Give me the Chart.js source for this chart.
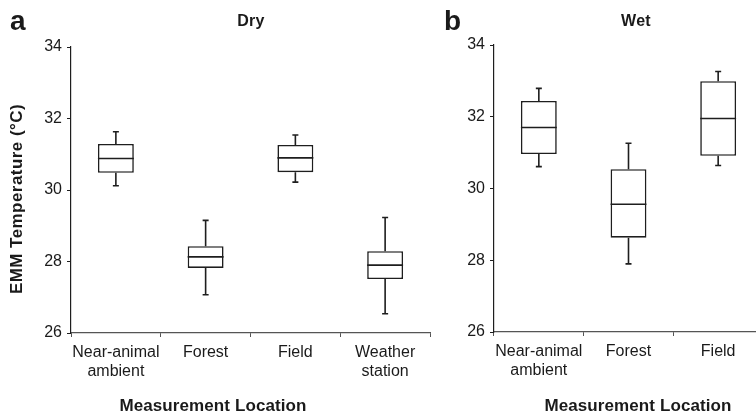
<!DOCTYPE html>
<html lang="en">
<head>
    <meta charset="UTF-8">
    <title>EMM Temperature by Measurement Location</title>
    <script src="https://cdn.jsdelivr.net/npm/chart.js"></script>
    <style>
        html, body { margin: 0; padding: 0; background: #fff; overflow: hidden; width: 756px; height: 413px; }
        body { position: relative; font-family: "Liberation Sans", Arial, sans-serif; color: #1a1a1a; }
        canvas { position: absolute; top: 0; }
        #chartA { left: 0; }
        #chartB { left: 440px; }
        .lbl { position: absolute; line-height: 1; white-space: nowrap; font-weight: bold; }
        .letter { font-size: 28px; }
        .panelTitle { font-size: 16px; letter-spacing: 0.3px; transform: translateX(-50%); }
        .xTitle { font-size: 17px; letter-spacing: 0.1px; transform: translateX(-50%); }
        .yTitle { font-size: 17px; letter-spacing: 0.45px; transform: translate(-50%, -50%) rotate(-90deg); }
    </style>
</head>
<body>
    <canvas id="chartA" width="440" height="413"></canvas>
    <canvas id="chartB" width="330" height="413"></canvas>

    <div class="lbl letter" style="left:10px; top:7px;">a</div>
    <div class="lbl letter" style="left:444px; top:7px;">b</div>
    <div class="lbl panelTitle" style="left:251px; top:13px;">Dry</div>
    <div class="lbl panelTitle" style="left:636px; top:13px;">Wet</div>
    <div class="lbl yTitle" style="left:16px; top:199px;">EMM Temperature (°C)</div>
    <div class="lbl xTitle" style="left:213px; top:397px;">Measurement Location</div>
    <div class="lbl xTitle" style="left:638px; top:397px;">Measurement Location</div>

    <script>
        // y axis ticks (both panels)
        const yTicks = [26, 28, 30, 32, 34];

        // Panel a - Dry season
        const dryCategories = [['Near-animal', 'ambient'], 'Forest', 'Field', ['Weather', 'station']];
        const dryMin    = [30.12, 27.07, 30.22, 26.54];
        const dryQ1     = [30.48, 27.82, 30.50, 27.51];
        const dryMedian = [30.88, 28.13, 30.90, 27.90];
        const dryQ3     = [31.29, 28.43, 31.26, 28.29];
        const dryMax    = [31.63, 29.15, 31.54, 29.23];

        // Panel b - Wet season
        const wetCategories = [['Near-animal', 'ambient'], 'Forest', 'Field'];
        const wetMin    = [30.61, 27.90, 30.64];
        const wetQ1     = [30.96, 28.63, 30.91];
        const wetMedian = [31.70, 29.56, 31.95];
        const wetQ3     = [32.44, 30.54, 32.99];
        const wetMax    = [32.79, 31.26, 33.26];

        const ink = '#1e1e1e';
        const tickFont = { family: '"Liberation Sans", Arial, sans-serif', size: 16 };

        // draws whiskers, caps and median lines on top of the floating bars
        const boxPlotLines = {
            id: 'boxPlotLines',
            afterDatasetsDraw(chart, args, opts) {
                const ctx = chart.ctx;
                const y = chart.scales.y;
                const meta = chart.getDatasetMeta(0);
                ctx.save();
                ctx.strokeStyle = ink;
                ctx.lineWidth = 1.6;
                meta.data.forEach((bar, i) => {
                    const x = bar.x;
                    const half = bar.width / 2;
                    const capHalf = 3;
                    const pMin = y.getPixelForValue(opts.min[i]);
                    const pQ1 = y.getPixelForValue(opts.q1[i]);
                    const pMed = y.getPixelForValue(opts.median[i]);
                    const pQ3 = y.getPixelForValue(opts.q3[i]);
                    const pMax = y.getPixelForValue(opts.max[i]);
                    ctx.beginPath();
                    // upper whisker
                    ctx.moveTo(x, pQ3); ctx.lineTo(x, pMax);
                    ctx.moveTo(x - capHalf, pMax); ctx.lineTo(x + capHalf, pMax);
                    // lower whisker
                    ctx.moveTo(x, pQ1); ctx.lineTo(x, pMin);
                    ctx.moveTo(x - capHalf, pMin); ctx.lineTo(x + capHalf, pMin);
                    // median
                    ctx.moveTo(x - half, pMed); ctx.lineTo(x + half, pMed);
                    ctx.stroke();
                });
                ctx.restore();
            }
        };

        function makeBoxChart(canvasId, categories, mins, q1s, medians, q3s, maxs, layout) {
            const boxes = q1s.map((q, i) => [q, q3s[i]]);
            return new Chart(document.getElementById(canvasId), {
                type: 'bar',
                data: {
                    labels: categories,
                    datasets: [{
                        data: boxes,
                        backgroundColor: '#ffffff',
                        borderColor: ink,
                        borderWidth: 1.6,
                        borderSkipped: false,
                        barPercentage: 0.4,
                        categoryPercentage: 1.0
                    }]
                },
                options: {
                    responsive: false,
                    animation: false,
                    layout: { padding: { top: layout.top, right: layout.right, left: 0, bottom: 0 } },
                    plugins: {
                        legend: { display: false },
                        tooltip: { enabled: false },
                        boxPlotLines: { min: mins, q1: q1s, median: medians, q3: q3s, max: maxs }
                    },
                    scales: {
                        x: {
                            offset: true,
                            grid: { offset: true, drawOnChartArea: false, drawTicks: true, tickLength: 4, color: '#555' },
                            border: { color: '#555', width: 1.2 },
                            ticks: { color: '#1a1a1a', font: tickFont, padding: 6, maxRotation: 0, autoSkip: false },
                            afterFit: s => { s.height = layout.xHeight; }
                        },
                        y: {
                            min: 26,
                            max: 34,
                            afterBuildTicks: s => { s.ticks = yTicks.map(v => ({ value: v })); },
                            grid: { drawOnChartArea: false, drawTicks: true, tickLength: 4, color: ink },
                            border: { color: ink, width: 1.2 },
                            ticks: { color: '#1a1a1a', font: tickFont, padding: 5 },
                            afterFit: s => { s.width = layout.yWidth; }
                        }
                    }
                },
                plugins: [boxPlotLines]
            });
        }

        makeBoxChart('chartA', dryCategories, dryMin, dryQ1, dryMedian, dryQ3, dryMax,
            { top: 47, right: 10, xHeight: 80, yWidth: 71 });
        makeBoxChart('chartB', wetCategories, wetMin, wetQ1, wetMedian, wetQ3, wetMax,
            { top: 45, right: 7, xHeight: 81, yWidth: 54 });
    </script>
</body>
</html>
